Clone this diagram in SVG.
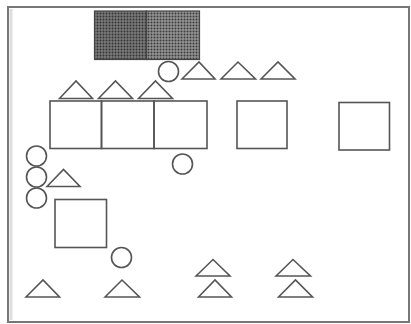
<svg xmlns="http://www.w3.org/2000/svg" width="411" height="324" viewBox="0 0 411 324">
<defs>
<pattern id="dots" width="3" height="3" patternUnits="userSpaceOnUse">
<rect width="3" height="3" fill="#7a7a7a"/>
<circle cx="1.5" cy="1.5" r="1" fill="#333"/>
</pattern>
<pattern id="dots2" width="3" height="3" patternUnits="userSpaceOnUse">
<rect width="3" height="3" fill="#949494"/>
<circle cx="1.5" cy="1.5" r="1" fill="#3a3a3a"/>
</pattern>
</defs>
<style>
.s{fill:none;stroke:#555;stroke-width:1.6}
</style>
<rect x="0" y="0" width="411" height="324" fill="#fff"/>
<rect id="frame" x="8" y="7" width="401" height="315" fill="#fff" stroke="#777" stroke-width="2"/>
<line x1="11" y1="9" x2="11" y2="320" stroke="#ddd" stroke-width="3"/>
<g id="shaded">
<rect x="94.5" y="11" width="52" height="48.5" fill="url(#dots)" stroke="#444" stroke-width="1.2"/>
<rect x="146.5" y="11" width="53" height="48.5" fill="url(#dots2)" stroke="#444" stroke-width="1.2"/>
</g>
<g id="squares">
<rect class="s" x="50" y="101" width="51.5" height="47.5"/>
<rect class="s" x="101.5" y="101" width="52.5" height="47.5"/>
<rect class="s" x="154" y="101" width="53" height="47.5"/>
<rect class="s" x="237" y="101" width="50" height="47.5"/>
<rect class="s" x="339" y="102.5" width="50.5" height="47.5"/>
<rect class="s" x="55" y="199.5" width="51.5" height="48"/>
</g>
<g id="circles">
<circle class="s" cx="168.5" cy="71.5" r="10"/>
<circle class="s" cx="36.5" cy="156" r="10"/>
<circle class="s" cx="36.5" cy="177" r="10"/>
<circle class="s" cx="36.5" cy="198" r="10"/>
<circle class="s" cx="182.5" cy="164" r="10"/>
<circle class="s" cx="121.5" cy="257.5" r="10"/>
</g>
<g id="triangles">
<polygon class="s" points="182,79 199,62 215,79"/>
<polygon class="s" points="221,79 238,62 255.5,79"/>
<polygon class="s" points="261,79 278,62 295,79"/>
<polygon class="s" points="59.5,98.5 76,81 92.5,98.5"/>
<polygon class="s" points="98.5,98.5 115.5,81 132.5,98.5"/>
<polygon class="s" points="138.5,98.5 155.5,81 172.5,98.5"/>
<polygon class="s" points="47,186.5 63.5,169.5 80,186.5"/>
<polygon class="s" points="26,297 43,280 59.5,297"/>
<polygon class="s" points="105,297 122,280 139.5,297"/>
<polygon class="s" points="196,276 213,259.5 230,276"/>
<polygon class="s" points="198.5,297 215,280 231.5,297"/>
<polygon class="s" points="276,276 293,259.5 310.5,276"/>
<polygon class="s" points="278.5,297 295.5,280 312.5,297"/>
</g>
</svg>
